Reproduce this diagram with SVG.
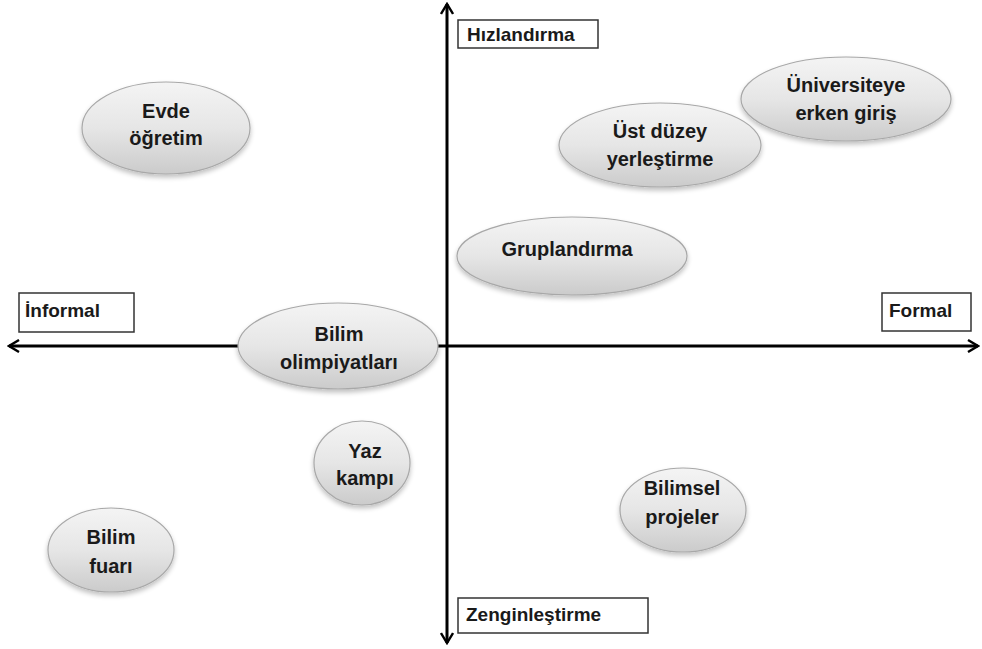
<svg xmlns="http://www.w3.org/2000/svg" width="982" height="649" viewBox="0 0 982 649">
<defs>
<linearGradient id="g" x1="0" y1="0" x2="0" y2="1">
<stop offset="0" stop-color="#f4f4f4"/>
<stop offset="0.5" stop-color="#e6e6e6"/>
<stop offset="1" stop-color="#cbcbcb"/>
</linearGradient>
<filter id="sh" x="-20%" y="-20%" width="140%" height="150%">
<feGaussianBlur in="SourceAlpha" stdDeviation="2.5"/>
<feOffset dx="0" dy="3" result="b"/>
<feComponentTransfer><feFuncA type="linear" slope="0.25"/></feComponentTransfer>
<feMerge><feMergeNode/><feMergeNode in="SourceGraphic"/></feMerge>
</filter>
<marker id="ah" viewBox="0 0 14 14" refX="12" refY="7" markerWidth="14" markerHeight="14" markerUnits="userSpaceOnUse" orient="auto-start-reverse">
<path d="M2,1 L12,7 L2,13" fill="none" stroke="#000" stroke-width="2.4"/>
</marker>
</defs>
<style>
.ax{stroke:#000;stroke-width:3;fill:none}
.el{fill:url(#g);stroke:#a8a8a8;stroke-width:1.2;filter:url(#sh)}
.t{font-family:"Liberation Sans",Arial,sans-serif;font-weight:bold;font-size:20px;fill:#1a1a1a;text-anchor:middle}
.lb{font-family:"Liberation Sans",Arial,sans-serif;font-weight:bold;font-size:19px;fill:#1a1a1a}
.bx{fill:#fff;stroke:#333;stroke-width:1.5}
</style>
<rect width="982" height="649" fill="#fff"/>
<g id="connectors">
<line class="ax" x1="447" y1="643" x2="447" y2="4" marker-end="url(#ah)" marker-start="url(#ah)"/>
<line class="ax" x1="9" y1="346" x2="978" y2="346" marker-end="url(#ah)" marker-start="url(#ah)"/>
</g>
<g id="lbl-hizlandirma"><rect class="bx" x="458" y="20" width="140" height="28"/><text class="lb" x="467" y="41">Hızlandırma</text></g>
<g id="lbl-informal"><rect class="bx" x="19" y="293" width="115" height="39"/><text class="lb" x="25" y="317">İnformal</text></g>
<g id="lbl-formal"><rect class="bx" x="882" y="293" width="89" height="38"/><text class="lb" x="889" y="317">Formal</text></g>
<g id="lbl-zenginlestirme"><rect class="bx" x="458" y="598" width="190" height="35"/><text class="lb" x="466" y="621">Zenginleştirme</text></g>
<g id="n-evde"><ellipse class="el" cx="166" cy="128" rx="84" ry="46"/><text class="t" x="166" y="118">Evde</text><text class="t" x="166" y="145">öğretim</text></g>
<g id="n-universite"><ellipse class="el" cx="846" cy="99" rx="105" ry="42"/><text class="t" x="846" y="92">Üniversiteye</text><text class="t" x="846" y="120">erken giriş</text></g>
<g id="n-ustduzey"><ellipse class="el" cx="660" cy="145" rx="101" ry="42"/><text class="t" x="660" y="138">Üst düzey</text><text class="t" x="660" y="166">yerleştirme</text></g>
<g id="n-gruplandirma"><ellipse class="el" cx="572" cy="256" rx="115" ry="39"/><text class="t" x="567" y="256">Gruplandırma</text></g>
<g id="n-olimpiyat"><ellipse class="el" cx="338" cy="346" rx="100" ry="43"/><text class="t" x="339" y="341">Bilim</text><text class="t" x="339" y="369">olimpiyatları</text></g>
<g id="n-yaz"><ellipse class="el" cx="362" cy="463" rx="48" ry="42"/><text class="t" x="365" y="458">Yaz</text><text class="t" x="365" y="485">kampı</text></g>
<g id="n-bilimsel"><ellipse class="el" cx="683" cy="510" rx="63" ry="42"/><text class="t" x="682" y="495">Bilimsel</text><text class="t" x="682" y="524">projeler</text></g>
<g id="n-fuar"><ellipse class="el" cx="111" cy="550" rx="63" ry="42"/><text class="t" x="111" y="544">Bilim</text><text class="t" x="111" y="573">fuarı</text></g>
</svg>
